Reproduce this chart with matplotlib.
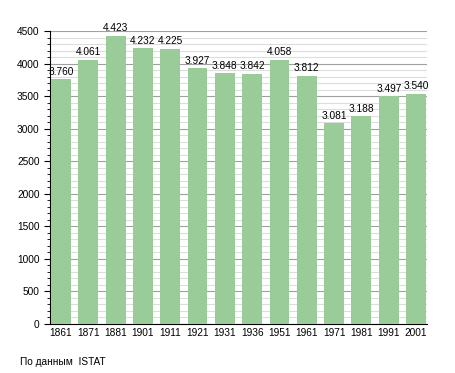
import matplotlib
matplotlib.use('Agg')
import matplotlib.pyplot as plt
from matplotlib.ticker import MultipleLocator

years = ['1861', '1871', '1881', '1901', '1911', '1921', '1931', '1936',
         '1951', '1961', '1971', '1981', '1991', '2001']
population = [3760, 4061, 4423, 4232, 4225, 3927, 3848, 3842,
              4058, 3812, 3081, 3188, 3497, 3540]
value_labels = ['3.760', '4.061', '4.423', '4.232', '4.225', '3.927', '3.848',
                '3.842', '4.058', '3.812', '3.081', '3.188', '3.497', '3.540']

plt.rcParams['font.family'] = ['Liberation Sans', 'DejaVu Sans']

fig = plt.figure(figsize=(4.55, 3.73), dpi=100)
ax = fig.add_axes([50/455, 1-324/373, 377/455, 293/373])

x = list(range(len(years)))
ax.bar(x, population, width=0.73, color='#99cc99', zorder=3)
for i in x:
    ax.text(i, population[i] + 40, value_labels[i], ha='center', va='bottom',
            fontsize=7.3, zorder=4)

ax.set_xlim(-0.4, 13.4)
ax.set_ylim(0, 4500)
ax.yaxis.set_major_locator(MultipleLocator(500))
ax.yaxis.set_minor_locator(MultipleLocator(100))
ax.grid(which='major', axis='y', color='#a0a0a0', linewidth=0.8, zorder=0)
ax.grid(which='minor', axis='y', color='#dddddd', linewidth=0.8, zorder=0)
ax.set_xticks(x)
ax.set_xticklabels(years)
ax.tick_params(axis='both', labelsize=7.3)
ax.tick_params(axis='x', length=0, pad=3)
ax.tick_params(axis='y', which='major', length=4)
ax.tick_params(axis='y', which='minor', length=2)
ax.spines['top'].set_visible(False)
ax.spines['right'].set_visible(False)

fig.text(20/455, 1-362/373, 'По данным  ISTAT', fontsize=7.3, va='center')

fig.savefig('out.png', dpi=100)
